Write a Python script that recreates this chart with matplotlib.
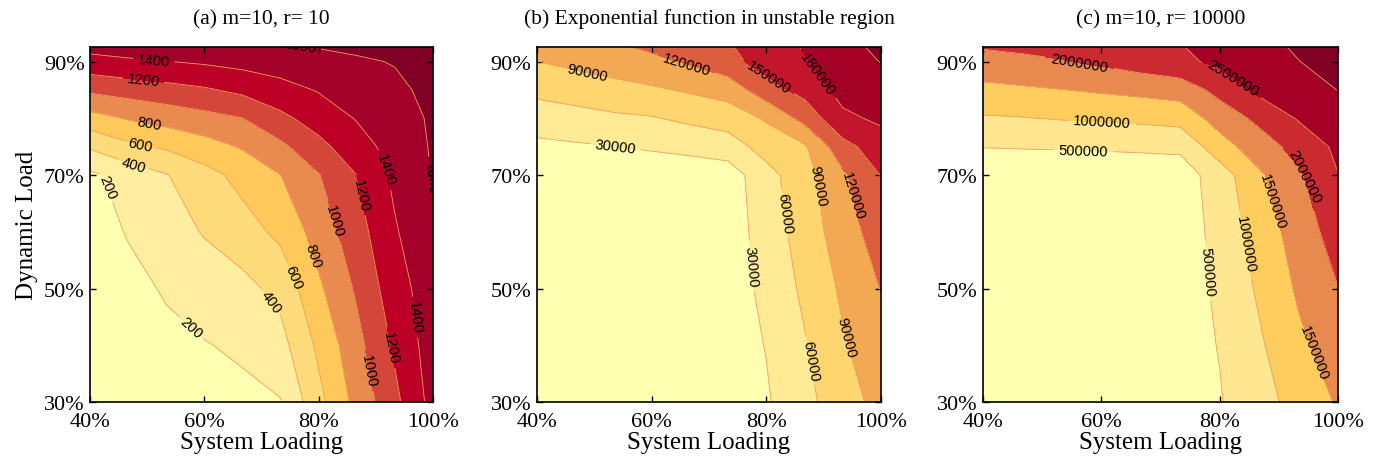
import numpy as np
import matplotlib
matplotlib.use("Agg")
import matplotlib.pyplot as plt

# Grid of the simulation (percent)
system_loading = [40, 46.67, 53.33, 60, 66.67, 73.33, 80, 86.67, 93.33, 100]
dynamic_load = [30, 40, 50, 60, 70, 75, 80, 85, 90, 93]

# (a) m=10, r=10  -- rows follow dynamic_load, columns follow system_loading
z_a = [
    [40, 70, 100, 130, 150, 190, 543, 863, 1149, 1470],
    [60, 100, 150, 190, 233, 330, 640, 939, 1233, 1500],
    [80, 140, 220, 292, 340, 460, 765, 1029, 1314, 1510],
    [100, 214, 313, 414, 518, 646, 884, 1119, 1379, 1580],
    [160, 280, 390, 530, 663, 798, 991, 1200, 1443, 1610],
    [424, 556, 627, 719, 817, 957, 1142, 1319, 1473, 1620],
    [724, 815, 875, 936, 997, 1152, 1288, 1411, 1517, 1625],
    [1036, 1083, 1131, 1176, 1244, 1329, 1413, 1487, 1559, 1650],
    [1335, 1373, 1395, 1426, 1463, 1500, 1538, 1575, 1610, 1680],
    [1480, 1500, 1520, 1545, 1565, 1590, 1620, 1645, 1680, 1720],
]

# (b) exponential function in unstable region
z_b = [
    [5000, 6000, 7000, 8000, 10000, 16000, 27000, 51500, 76500, 100000],
    [6000, 7000, 8000, 9000, 11000, 17000, 31000, 57600, 87000, 108000],
    [7000, 8000, 9000, 10000, 12000, 16000, 37000, 66000, 95000, 121000],
    [7000, 8000, 9000, 10000, 12000, 15000, 42700, 74300, 104800, 136000],
    [6000, 7000, 8000, 9400, 11600, 15000, 49300, 79200, 115000, 151000],
    [23000, 26300, 29500, 33900, 38700, 45300, 72300, 86000, 140000, 166500],
    [45000, 49700, 55000, 58000, 66000, 73900, 93200, 130300, 174000, 185000],
    [67200, 72900, 79000, 85600, 93400, 102000, 138000, 160000, 190000, 196000],
    [89500, 97400, 105400, 113000, 123300, 141000, 162000, 178000, 195000, 211000],
    [103000, 110000, 118000, 127000, 136000, 148000, 165000, 183000, 203000, 216000],
]

# (c) m=10, r=10000
z_c = [
    [150000, 170000, 180000, 190000, 200000, 300000, 470000, 820000, 1170000, 1550000],
    [180000, 200000, 210000, 220000, 230000, 300000, 520000, 930000, 1400000, 1730000],
    [200000, 220000, 240000, 250000, 250000, 250000, 590000, 1070000, 1570000, 1990000],
    [220000, 260000, 280000, 280000, 270000, 220000, 670000, 1220000, 1720000, 2240000],
    [250000, 330000, 350000, 340000, 320000, 250000, 750000, 1420000, 1920000, 2490000],
    [510000, 515000, 520000, 530000, 550000, 600000, 1290000, 1760000, 2180000, 2600000],
    [950000, 980000, 1030000, 1070000, 1120000, 1180000, 1710000, 2120000, 2540000, 2830000],
    [1370000, 1430000, 1490000, 1560000, 1630000, 1710000, 2160000, 2620000, 2730000, 3010000],
    [1820000, 1890000, 1970000, 2090000, 2250000, 2410000, 2590000, 2790000, 2990000, 3200000],
    [2070000, 2130000, 2200000, 2280000, 2380000, 2490000, 2650000, 2850000, 3080000, 3300000],
]

levels_a = [200, 400, 600, 800, 1000, 1200, 1400, 1600]
levels_b = [30000, 60000, 90000, 120000, 150000, 180000, 210000]
levels_c = [500000, 1000000, 1500000, 2000000, 2500000, 3000000]

titles = ["(a) m=10, r= 10",
          "(b) Exponential function in unstable region",
          "(c) m=10, r= 10000"]

x_ticks = [40, 60, 80, 100]
x_ticklabels = ["40%", "60%", "80%", "100%"]
y_ticks = [30, 50, 70, 90]
y_ticklabels = ["30%", "50%", "70%", "90%"]

colors_a = ['#ffffb2', '#ffeda0', '#fedb7a', '#fec85a', '#e98a4f',
            '#d4453a', '#bd0026', '#a3002a', '#800026']
colors_b = ['#ffffb2', '#ffea96', '#fed56e', '#f3a853', '#dc5e3f',
            '#c3152b', '#a50026', '#7f0026']
colors_c = ['#ffffb2', '#ffe690', '#fecd5d', '#e8894f', '#cc2a31',
            '#a50026', '#800026']

# where the inline contour labels sit (data coordinates)
label_spots_a = [(76.7, 91.9), (51.1, 89.6), (49.3, 86.0), (50.2, 78.5), (48.7, 75.3),
                 (47.6, 71.8), (44.1, 68.3), (91.6, 70.9), (99.4, 69.5), (87.5, 66.5),
                 (82.5, 61.9), (79.3, 56.0), (75.8, 52.2), (71.8, 47.8), (57.8, 43.2),
                 (96.5, 44.9), (92.7, 39.6), (89.2, 35.6)]
label_spots_b = [(48.7, 87.6), (66.1, 89.4), (80.4, 87.3), (89.4, 88.2), (53.6, 74.2),
                 (88.2, 68.0), (94.6, 66.3), (83.0, 63.3), (77.5, 54.0), (93.8, 41.4),
                 (87.6, 37.3)]
label_spots_c = [(56.4, 90.2), (82.0, 87.0), (60.1, 79.1), (56.9, 73.9), (93.5, 69.5),
                 (89.0, 65.4), (84.3, 57.8), (78.1, 53.1), (96.1, 38.8)]

panels = [
    (z_a, levels_a, colors_a, label_spots_a, [0.0654, 0.124, 0.249, 0.772]),
    (z_b, levels_b, colors_b, label_spots_b, [0.3900, 0.124, 0.2498, 0.772]),
    (z_c, levels_c, colors_c, label_spots_c, [0.7139, 0.124, 0.2578, 0.772]),
]

serif = "Liberation Serif"
fig = plt.figure(figsize=(13.77, 4.6), dpi=100)

X, Y = np.meshgrid(system_loading, dynamic_load)
for i, (z, levels, colors, spots, rect) in enumerate(panels):
    ax = fig.add_axes(rect)
    Z = np.asarray(z, dtype=float)
    bounds = [Z.min() - 1] + list(levels) + [Z.max() + 1]
    ax.contourf(X, Y, Z, levels=bounds, colors=colors)
    cs = ax.contour(X, Y, Z, levels=levels, colors='#f2a15e', linewidths=0.6)
    ax.clabel(cs, levels, fmt='%d', manual=spots, inline=True, inline_spacing=2,
              fontsize=10.5, colors='black')
    for t in cs.labelTexts:
        t.set_fontfamily("Liberation Sans")

    ax.set_xlim(40, 100)
    ax.set_ylim(30, 92.6)
    ax.set_xticks(x_ticks)
    ax.set_xticklabels(x_ticklabels, fontfamily=serif, fontsize=16)
    ax.set_yticks(y_ticks)
    ax.set_yticklabels(y_ticklabels, fontfamily=serif, fontsize=16)
    ax.tick_params(direction='in', length=4, width=1, top=True, right=True)
    ax.tick_params(axis='x', pad=7)
    ax.tick_params(axis='y', pad=4)
    for s in ax.spines.values():
        s.set_linewidth(1.2)
    ax.set_title(titles[i], fontfamily=serif, fontsize=15.5, pad=17)
    ax.set_xlabel("System Loading", fontfamily=serif, fontsize=18, labelpad=0)
    if i == 0:
        ax.set_ylabel("Dynamic Load", fontfamily=serif, fontsize=18, labelpad=4)

fig.savefig("out.png", dpi=100)
